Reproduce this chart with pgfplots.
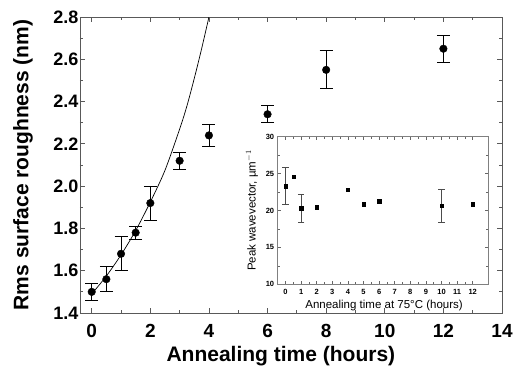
\documentclass[border=0pt]{standalone}
\usepackage{fontspec}
\setmainfont{Liberation Sans}
\usepackage{pgfplots}
\pgfplotsset{compat=1.18}
\begin{document}
\begin{tikzpicture}
\path[use as bounding box] (-80pt,-52pt) rectangle (433pt,313pt);
\begin{axis}[
  at={(0pt,0pt)}, anchor=south west,
  scale only axis, width=422pt, height=296pt,
  xmin=-0.4, xmax=14, ymin=1.4, ymax=2.8,
  xtick={0,2,4,6,8,10,12,14},
  ytick={1.4,1.6,1.8,2.0,2.2,2.4,2.6,2.8},
  minor x tick num=1, minor y tick num=1,
  tick align=inside, major tick length=5pt, minor tick length=3pt,
  axis line style={black!65, line width=0.8pt},
  every tick/.style={black!65, line width=0.8pt},
  /pgf/number format/assume math mode=true,
  yticklabel style={/pgf/number format/fixed, /pgf/number format/fixed zerofill, /pgf/number format/precision=1},
  xticklabel style={font=\fontsize{19}{19}\selectfont\bfseries, yshift=-8pt},
  yticklabel style={font=\fontsize{18}{18}\selectfont\bfseries, xshift=2pt},
  xlabel={Annealing time (hours)},
  ylabel={Rms surface roughness (nm)},
  xlabel style={font=\fontsize{21}{21}\selectfont\bfseries, at={(axis description cs:0.476,-0.1645)}, anchor=base},
  ylabel style={font=\fontsize{21}{21}\selectfont\bfseries, at={(axis description cs:-0.135,0.5)}, anchor=center},
  clip=true,
]
\addplot[black, line width=0.7pt, smooth] coordinates {
 (0,1.49) (0.5,1.575) (1,1.675) (1.5,1.79) (2,1.925) (2.5,2.075)
 (3,2.27) (3.25,2.38) (3.5,2.51) (3.75,2.65) (4.0,2.80)
};
\addplot[black, only marks, mark=*, mark size=3.8pt,
  error bars/.cd, y dir=both, y explicit,
  error bar style={black, line width=0.8pt},
  error mark options={rotate=90, mark size=6.5pt, black, line width=0.8pt}]
  table[x=x, y=y, y error=e] {
x y e
0 1.50 0.04
0.5 1.56 0.06
1 1.68 0.08
1.5 1.78 0.03
2 1.92 0.08
3 2.12 0.04
4 2.24 0.05
6 2.34 0.04
8 2.55 0.09
12 2.65 0.065
};
\end{axis}
\begin{axis}[
  at={(197.7pt,28.7pt)}, anchor=south west,
  scale only axis, width=210.6pt, height=147.6pt,
  xmin=-0.5, xmax=13, ymin=10, ymax=30,
  xtick={0,1,2,3,4,5,6,7,8,9,10,11,12},
  ytick={10,15,20,25,30},
  minor x tick num=1, minor y tick num=1,
  tick align=inside, major tick length=3pt, minor tick length=2pt,
  axis line style={black!50, line width=0.7pt},
  every tick/.style={black!60, line width=0.6pt},
  axis background/.style={fill=white},
  /pgf/number format/assume math mode=true,
  ticklabel style={font=\fontsize{7.5}{7.5}\selectfont\bfseries},
  xticklabel style={yshift=-1.5pt},
  xlabel={Annealing time at 75°C (hours)},
  ylabel={Peak wavevector, µm$^{-1}$},
  xlabel style={font=\fontsize{11.5}{11.5}\selectfont, at={(axis description cs:0.505,-0.167)}, anchor=base},
  ylabel style={font=\fontsize{11.5}{11.5}\selectfont, at={(axis description cs:-0.122,0.5)}, anchor=center},
]
\addplot[black, only marks, mark=square*, mark size=1.6pt,
  error bars/.cd, y dir=both, y explicit,
  error bar style={black!70, line width=0.6pt},
  error mark options={rotate=90, mark size=3.3pt, black!70, line width=0.6pt}]
  table[x=x, y=y, y error=e] {
x y e
0 23.3 2.5
1 20.3 1.95
10 20.6 2.25
};
\addplot[black, only marks, mark=square*, mark size=1.6pt] table[x=x, y=y] {
x y
0.5 24.6
2 20.45
4 22.8
5 20.86
6 21.27
12 20.86
};
\end{axis}
\end{tikzpicture}
\end{document}
